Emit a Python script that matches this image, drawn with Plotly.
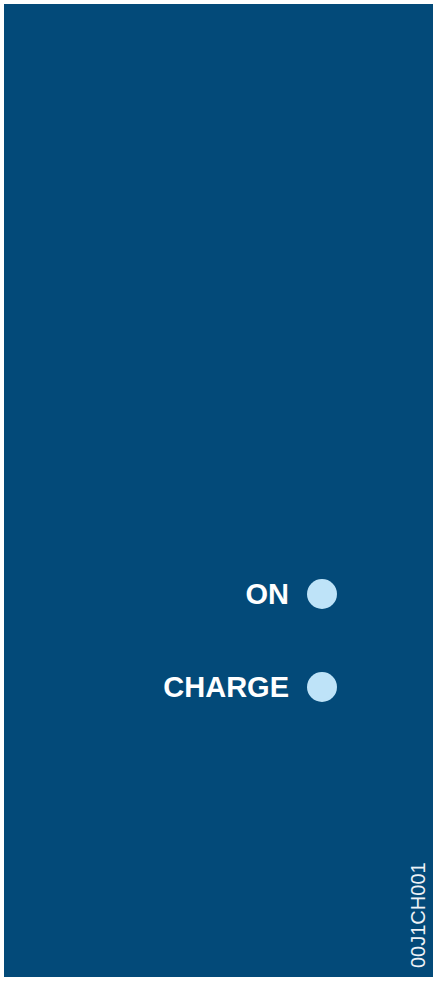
import plotly.graph_objects as go

# Data
indicator_labels = ["ON", "CHARGE"]
indicator_rows = [0, 1]
figure_code = "00J1CH001"

BG = "#034A79"
DOT = "#BEE3F8"
TXT = "#FFFFFF"

W, H = 436, 981
# pixel layout (page coordinates)
row_y0, row_dy = 594, 93
dot_x = 322
label_x = 289
label_dy = 3

ys = [row_y0 + r * row_dy for r in indicator_rows]

fig = go.Figure()
fig.add_trace(go.Scatter(
    x=[dot_x] * len(indicator_labels), y=ys, mode="markers",
    marker=dict(size=30, color=DOT, line=dict(width=0)),
    hoverinfo="skip", showlegend=False,
))
fig.add_trace(go.Scatter(
    x=[label_x] * len(indicator_labels), y=[y + label_dy for y in ys], mode="text",
    text=indicator_labels, textposition="middle left",
    textfont=dict(family="Liberation Sans, Arial, sans-serif", size=29, color=TXT, weight="bold"),
    hoverinfo="skip", showlegend=False,
))

fig.add_shape(type="rect", xref="x", yref="y", x0=4, x1=433, y0=4, y1=977,
              fillcolor=BG, line=dict(width=0), layer="below")

fig.add_annotation(x=418, y=915, xref="x", yref="y", text=figure_code,
                   textangle=-90, showarrow=False,
                   font=dict(family="Liberation Sans, Arial, sans-serif", size=20, color="#EEF2F6"))

fig.update_layout(
    width=W, height=H, margin=dict(l=0, r=0, t=0, b=0),
    paper_bgcolor="white", plot_bgcolor="white",
    xaxis=dict(range=[0, W], visible=False, fixedrange=True),
    yaxis=dict(range=[H, 0], visible=False, fixedrange=True),
)
fig.write_html("out.html", config={"displayModeBar": False},
               post_script="document.body.style.margin='0';document.body.style.overflow='hidden';")
